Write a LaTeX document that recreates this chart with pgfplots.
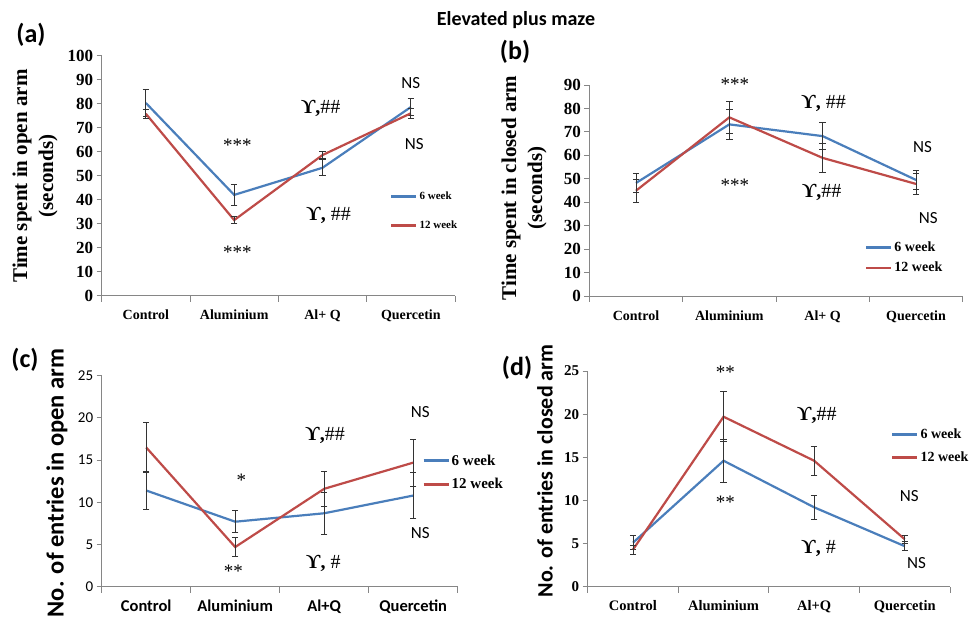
\documentclass[border=0pt]{standalone}
\usepackage{pgfplots}
\pgfplotsset{compat=1.18}
\usepackage{fontspec}
\setmainfont{Liberation Serif}
\newfontfamily\calib{Carlito}
\definecolor{sblue}{HTML}{4A7EBB}
\definecolor{sred}{HTML}{BE4B48}
\definecolor{axgray}{HTML}{868686}
\newcommand{\fs}[1]{\fontsize{#1}{#1}\selectfont}
\pgfplotsset{
  panel/.style={
    scale only axis, clip=false,
    axis lines*=left,
    axis line style={axgray, line width=0.9pt},
    xmin=-0.5, xmax=3.5,
    xtick={0,1,2,3},
    minor xtick={-0.5,0.5,1.5,2.5,3.5},
    major x tick style={draw=none},
    minor x tick style={axgray, line width=0.9pt},
    y tick style={axgray, line width=0.9pt},
    tick align=outside,
    major tick length=5pt, minor tick length=6pt,
    /pgf/number format/assume math mode=true,
    legend cell align=left,
    legend image code/.code={\draw[##1,line width=2.4pt] (0pt,0pt) -- (25pt,0pt);},
  },
  sb/.style={sblue, line width=2.2pt, mark=none},
  sr/.style={sred, line width=2.2pt, mark=none},
  eb/.style={error bars/.cd, y dir=both, y explicit,
    error bar style={black!80, line width=0.8pt},
    error mark options={rotate=90, mark size=3.2pt, black!80, line width=0.8pt}},
}
\begin{document}
\begin{tikzpicture}[x=1pt,y=1pt]
\useasboundingbox (0pt,0pt) rectangle (977pt,619pt);
% title and panel letters
\node[font=\calib\bfseries\fs{20}] at (516pt,599pt) {Elevated plus maze};
\node[font=\calib\bfseries\fs{26}] at (31pt,584pt) {(a)};
\node[font=\calib\bfseries\fs{26}] at (515pt,567pt) {(b)};
\node[font=\calib\bfseries\fs{26}] at (25pt,259pt) {(c)};
\node[font=\calib\bfseries\fs{26}] at (517pt,251pt) {(d)};
% y labels
\node[rotate=90, align=center, font=\bfseries\fontsize{21}{26}\selectfont] at (35pt,443pt) {Time spent in open arm\\(seconds)};
\node[rotate=90, align=center, font=\bfseries\fontsize{21}{26}\selectfont] at (524pt,431pt) {Time spent in closed arm\\(seconds)};
\node[rotate=90, font=\calib\bfseries\fs{24.5}] at (57pt,136pt) {No. of entries in open arm};
\node[rotate=90, font=\calib\bfseries\fs{22}] at (545pt,148pt) {No. of entries in closed arm};

% ---------------- (a)
\begin{axis}[panel, at={(101.7pt,323.3pt)}, anchor=south west,
  width=353.3pt, height=240pt,
  ymin=0, ymax=100, ytick={0,10,...,100},
  xticklabels={Control,Aluminium,Al+ Q,Quercetin},
  yticklabel style={font=\bfseries\fs{17}},
  xticklabel style={font=\bfseries\fs{14}, yshift=-6pt},
  legend style={draw=none, fill=none, at={(0.816,0.353)}, anchor=west,
    font=\bfseries\fs{11}, row sep=16pt, inner sep=0pt}]
\addplot[sb, eb] coordinates {(0,80.3) +- (0,5.7) (1,42) +- (0,4.3) (2,53.3) +- (0,3.3) (3,78.6) +- (0,3.4)};
\addplot[sr, eb] coordinates {(0,75.8) +- (0,2) (1,31.5) +- (0,1.5) (2,58.6) +- (0,1.5) (3,76) +- (0,2)};
\legend{6 week,12 week}
\node[font=\calib\fs{17}] at (axis cs:3.0,88.5) {NS};
\node[font=\fs{20}] at (axis cs:1.98,78) {{\bfseries ϒ,}\#\#};
\node[font=\fs{19}] at (axis cs:1.035,62.8) {***};
\node[font=\calib\fs{17}] at (axis cs:3.04,63.2) {NS};
\node[font=\fs{20}] at (axis cs:2.07,33.6) {{\bfseries ϒ,} \#\#};
\node[font=\fs{19}] at (axis cs:1.035,17.9) {***};
\end{axis}

% ---------------- (b)
\begin{axis}[panel, at={(589.3pt,323pt)}, anchor=south west,
  width=373.4pt, height=211pt,
  ymin=0, ymax=90, ytick={0,10,...,90},
  xticklabels={Control,Aluminium,Al+ Q,Quercetin},
  yticklabel style={font=\bfseries\fs{17}},
  xticklabel style={font=\bfseries\fs{14}, yshift=-6pt},
  legend style={draw=none, fill=none, at={(0.738,0.182)}, anchor=west,
    font=\bfseries\fs{14}, row sep=5pt, inner sep=0pt}]
\addplot[sb, eb] coordinates {(0,48.2) +- (0,4) (1,73.2) +- (0,6.3) (2,68.2) +- (0,5.8) (3,49.5) +- (0,4.2)};
\addplot[sr, eb] coordinates {(0,44.9) +- (0,5) (1,76.2) +- (0,6.7) (2,58.9) +- (0,6) (3,47.8) +- (0,4.5)};
\legend{6 week,12 week}
\node[font=\fs{19}] at (axis cs:1.06,90.4) {***};
\node[font=\fs{20}] at (axis cs:2.01,82.2) {{\bfseries ϒ,} \#\#};
\node[font=\calib\fs{17}] at (axis cs:3.07,63.7) {NS};
\node[font=\fs{19}] at (axis cs:1.06,47.4) {***};
\node[font=\fs{20}] at (axis cs:1.99,44.1) {{\bfseries ϒ,}\#\#};
\node[font=\calib\fs{17}] at (axis cs:3.13,33.1) {NS};
\end{axis}

% ---------------- (c)
\begin{axis}[panel, at={(101.7pt,32.3pt)}, anchor=south west,
  width=356pt, height=211pt,
  ymin=0, ymax=25, ytick={0,5,...,25},
  xticklabels={Control,Aluminium,Al+Q,Quercetin},
  yticklabel style={font=\calib\fs{15}},
  xticklabel style={font=\calib\bfseries\fs{16.5}, yshift=-5pt},
  legend style={draw=none, fill=none, at={(0.90,0.541)}, anchor=west,
    font=\bfseries\fs{15}, row sep=8pt, inner sep=0pt}]
\addplot[sb, eb] coordinates {(0,11.4) +- (0,2.3) (1,7.7) +- (0,1.3) (2,8.7) +- (0,2.5) (3,10.8) +- (0,2.7)};
\addplot[sr, eb] coordinates {(0,16.5) +- (0,3) (1,4.7) +- (0,1.1) (2,11.6) +- (0,2.1) (3,14.7) +- (0,2.8)};
\legend{6 week,12 week}
\node[font=\calib\fs{17}] at (axis cs:3.08,20.7) {NS};
\node[font=\fs{20}] at (axis cs:2.01,17.9) {{\bfseries ϒ,}\#\#};
\node[font=\fs{19}] at (axis cs:1.07,12.6) {*};
\node[font=\calib\fs{17}] at (axis cs:3.08,6.4) {NS};
\node[font=\fs{20}] at (axis cs:1.99,2.8) {{\bfseries ϒ,} \#};
\node[font=\fs{19}] at (axis cs:0.98,1.8) {**};
\end{axis}

% ---------------- (d)
\begin{axis}[panel, at={(587.7pt,32.3pt)}, anchor=south west,
  width=362.3pt, height=215.7pt,
  ymin=0, ymax=25, ytick={0,5,...,25},
  xticklabels={Control,Aluminium,Al+Q,Quercetin},
  yticklabel style={font=\bfseries\fs{15}},
  xticklabel style={font=\bfseries\fs{14.5}, yshift=-5pt},
  legend style={draw=none, fill=none, at={(0.837,0.652)}, anchor=west,
    font=\bfseries\fs{14}, row sep=8pt, inner sep=0pt}]
\addplot[sb, eb] coordinates {(0,5.1) +- (0,0.8) (1,14.6) +- (0,2.5) (2,9.2) +- (0,1.4) (3,4.7) +- (0,0.5)};
\addplot[sr, eb] coordinates {(0,4.3) +- (0,0.5) (1,19.7) +- (0,2.9) (2,14.6) +- (0,1.7) (3,5.5) +- (0,0.5)};
\legend{6 week,12 week}
\node[font=\fs{19}] at (axis cs:1.02,24.9) {**};
\node[font=\fs{20}] at (axis cs:2.03,19.8) {{\bfseries ϒ,}\#\#};
\node[font=\fs{19}] at (axis cs:1.02,9.8) {**};
\node[font=\calib\fs{17}] at (axis cs:3.05,10.5) {NS};
\node[font=\fs{20}] at (axis cs:2.05,4.4) {{\bfseries ϒ,} \#};
\node[font=\calib\fs{17}] at (axis cs:3.13,2.7) {NS};
\end{axis}
\end{tikzpicture}
\end{document}
